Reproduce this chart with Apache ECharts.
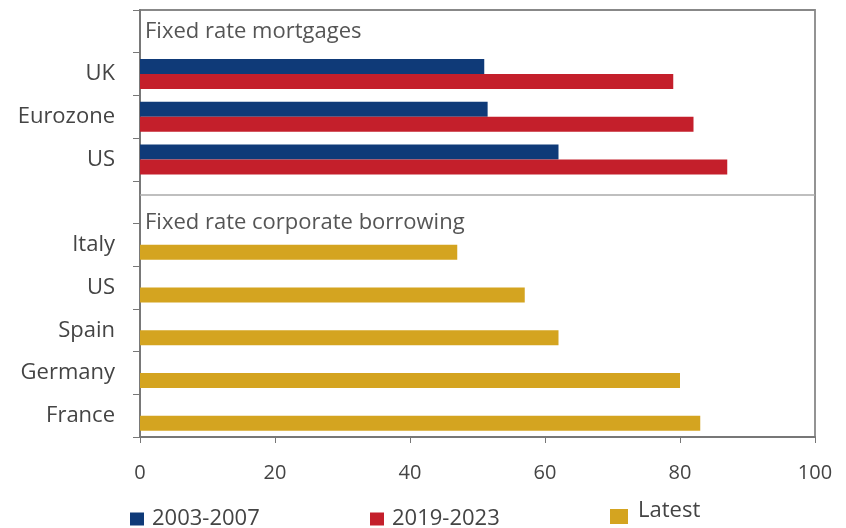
<!DOCTYPE html>
<html><head><meta charset="utf-8">
<script src="https://cdn.jsdelivr.net/npm/echarts@6/dist/echarts.min.js"></script>
<style>html,body{margin:0;padding:0;background:#fff}#c{width:846px;height:528px}</style>
</head><body><div id="c"></div>
<script>
const categories = ['', 'UK', 'Eurozone', 'US', '', 'Italy', 'US', 'Spain', 'Germany', 'France'];
const s2003 = [null, 51, 51.5, 62, null, null, null, null, null, null];
const s2019 = [null, 79, 82, 87, null, null, null, null, null, null];
const latest = [null, null, null, null, null, 47, 57, 62, 80, 83];
const xTicks = [0, 20, 40, 60, 80, 100];
const sectionTitles = ['Fixed rate mortgages', 'Fixed rate corporate borrowing'];

const FONT = '"Open Sans", sans-serif';
const chart = echarts.init(document.getElementById('c'));
const legendText = {fontFamily: FONT, fontSize: 22, color: '#444', padding: [0, 0, 0, 3]};
chart.setOption({
  animation: false,
  grid: {left: 140, right: 31, top: 10, bottom: 91, show: true, borderColor: '#888', borderWidth: 1.8},
  xAxis: {
    type: 'value', min: xTicks[0], max: xTicks[xTicks.length - 1], interval: 20,
    splitLine: {show: false},
    axisLine: {show: true, lineStyle: {color: '#777', width: 1.8}},
    axisTick: {show: true, length: 6, lineStyle: {color: '#777'}},
    axisLabel: {fontFamily: FONT, fontSize: 20, color: '#444', margin: 26}
  },
  yAxis: {
    type: 'category', data: categories, inverse: true,
    axisLine: {show: true, lineStyle: {color: '#777', width: 1.8}},
    axisTick: {show: true, length: 7, lineStyle: {color: '#777'}},
    axisLabel: {fontFamily: FONT, fontSize: 22, color: '#444', margin: 25}
  },
  legend: [
    {data: ['2003-2007'], left: 125, top: 503, itemWidth: 14, itemHeight: 13, icon: 'rect', textStyle: legendText},
    {data: ['2019-2023'], left: 365, top: 503, itemWidth: 14, itemHeight: 13, icon: 'rect', textStyle: legendText},
    {data: [{name: 'Latest', icon: 'path://M0,0L0.01,0M0,12L18,12L18,27L0,27Z'}], left: 605, top: 492, itemWidth: 18, itemHeight: 27,
     textStyle: Object.assign({}, legendText, {padding: [0, 0, 0, 5]})}
  ],
  graphic: [
    {type: 'text', left: 145, top: 21, style: {text: sectionTitles[0], fontFamily: FONT, fontSize: 22, fill: '#555'}},
    {type: 'text', left: 145, top: 212, style: {text: sectionTitles[1], fontFamily: FONT, fontSize: 22, fill: '#555'}}
  ],
  series: [
    {name: '2003-2007', type: 'bar', data: s2003, barWidth: 15, barGap: '0%', itemStyle: {color: '#0f3a78'},
     markLine: {silent: true, symbol: 'none', label: {show: false}, lineStyle: {color: '#aaa', type: 'solid', width: 1.5},
       data: [{yAxis: 4}]}},
    {name: '2019-2023', type: 'bar', stack: 'b', data: s2019, barWidth: 15, itemStyle: {color: '#c41f2b'}},
    {name: 'Latest', type: 'bar', stack: 'b', data: latest, barWidth: 15, itemStyle: {color: '#d4a420'}}
  ]
});
</script></body></html>
